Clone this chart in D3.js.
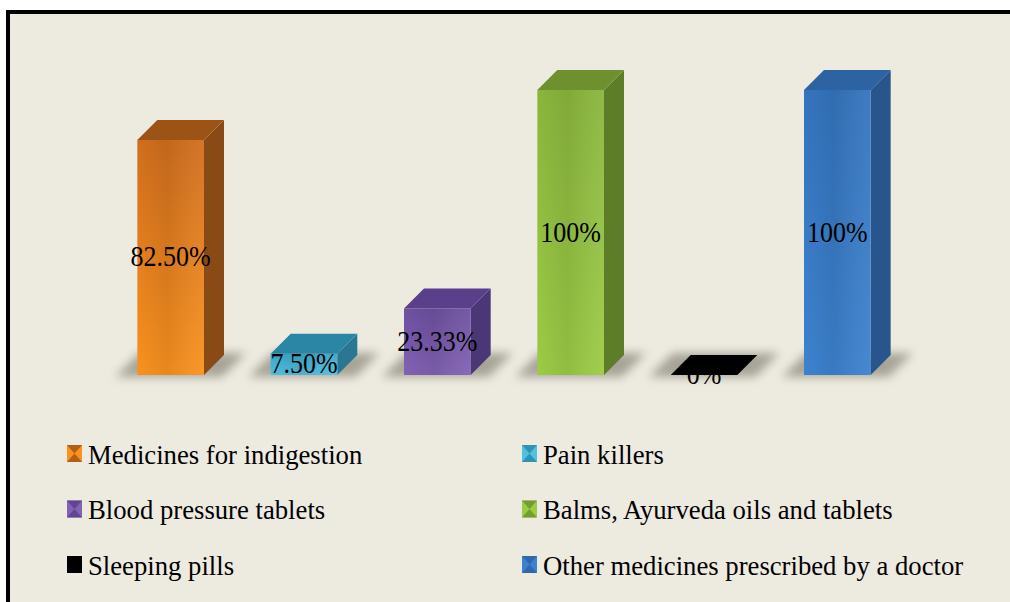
<!DOCTYPE html>
<html>
<head>
<meta charset="utf-8">
<script src="https://cdn.jsdelivr.net/npm/d3@7"></script>
<style>
  body { margin: 0; background: #fff; }
  svg { display: block; }
</style>
</head>
<body>
<div id="chart"></div>
<script>
var categories = ['Medicines for indigestion', 'Pain killers', 'Blood pressure tablets',
                  'Balms, Ayurveda oils and tablets', 'Sleeping pills', 'Other medicines prescribed by a doctor']
var values = [82.5, 7.5, 23.33, 100, 0, 100]
var valueLabels = ['82.50%', '7.50%', '23.33%', '100%', '0%', '100%']

// front / top / side colours for each bar
var frontLight = ['#f9921f', '#52c0e0', '#8262b4', '#9ccb46', '#000000', '#3d82cf']
var frontDark  = ['#d06e1e', '#3aa6c8', '#6d50a0', '#8ab63d', '#000000', '#3474bd']
var topCol     = ['#9c5416', '#2b86a6', '#5a3f8a', '#6e902e', '#000000', '#2d62a3']
var sideCol    = ['#8a4a15', '#2a7793', '#4b3676', '#5d7d28', '#000000', '#28558c']

var W = 1010, H = 602
var depth = 20

var svg = d3.select('#chart').append('svg')
    .attr('width', W)
    .attr('height', H)

// background + frame
svg.append('rect')
    .attr('x', 8).attr('y', 12)
    .attr('width', W + 20).attr('height', H + 20)
    .attr('fill', '#edeae0')
    .attr('stroke', '#000')
    .attr('stroke-width', 4)

var defs = svg.append('defs')
defs.append('filter').attr('id', 'blur')
    .attr('x', '-30%').attr('y', '-100%').attr('width', '160%').attr('height', '300%')
    .append('feGaussianBlur').attr('stdDeviation', 5)

categories.forEach(function (c, i) {
    var g = defs.append('linearGradient').attr('id', 'fv' + i)
        .attr('x1', 0).attr('y1', 0).attr('x2', 0).attr('y2', 1)
    g.append('stop').attr('offset', '0%').attr('stop-color', frontDark[i])
    g.append('stop').attr('offset', '100%').attr('stop-color', frontLight[i])
    var h = defs.append('linearGradient').attr('id', 'fh' + i)
        .attr('x1', 0).attr('y1', 0).attr('x2', 1).attr('y2', 0)
    h.append('stop').attr('offset', '0%').attr('stop-color', '#000').attr('stop-opacity', 0)
    h.append('stop').attr('offset', '45%').attr('stop-color', '#000').attr('stop-opacity', 0.07)
    h.append('stop').attr('offset', '100%').attr('stop-color', '#fff').attr('stop-opacity', 0.05)
})

var x = d3.scaleBand()
    .domain(categories)
    .range([104, 904])
    .paddingInner(0.5)
    .paddingOuter(0.25)

var y = d3.scaleLinear()
    .domain([0, 100])
    .range([375, 90])

var base = y(0)

// floor shadows
svg.append('g').selectAll('polygon')
    .data(categories)
    .enter()
    .append('polygon')
    .attr('points', function (d) {
        var x0 = x(d), x1 = x(d) + x.bandwidth()
        return [[x0 - 22, base + 2], [x1 + 18, base + 2], [x1 + depth + 22, base - depth - 2], [x0 + 2, base - depth - 2]].join(' ')
    })
    .attr('fill', '#6e6a5c')
    .attr('opacity', 0.55)
    .attr('filter', 'url(#blur)')

var bars = svg.append('g').selectAll('g')
    .data(categories)
    .enter()
    .append('g')

bars.append('polygon')
    .attr('points', function (d, i) {
        var x1 = x(d) + x.bandwidth(), t = y(values[i])
        return [[x1, t], [x1 + depth, t - depth], [x1 + depth, base - depth], [x1, base]].join(' ')
    })
    .attr('fill', function (d, i) { return sideCol[i] })

bars.append('rect')
    .attr('x', function (d) { return x(d) })
    .attr('y', function (d, i) { return y(values[i]) })
    .attr('width', x.bandwidth())
    .attr('height', function (d, i) { return base - y(values[i]) })
    .attr('fill', function (d, i) { return 'url(#fv' + i + ')' })

bars.append('rect')
    .attr('x', function (d) { return x(d) })
    .attr('y', function (d, i) { return y(values[i]) })
    .attr('width', x.bandwidth())
    .attr('height', function (d, i) { return base - y(values[i]) })
    .attr('fill', function (d, i) { return 'url(#fh' + i + ')' })

// value labels, centred on the front face
svg.append('g').selectAll('text')
    .data(categories)
    .enter()
    .append('text')
    .attr('transform', function (d, i) {
        var cy = (y(values[i]) + base) / 2
        return 'translate(' + (x(d) + x.bandwidth() / 2) + ',' + (cy + 9) + ') scale(1,1.1)'
    })
    .attr('text-anchor', 'middle')
    .attr('font-family', '"Liberation Serif", "Times New Roman", serif')
    .attr('font-size', 26)
    .attr('fill', '#000')
    .text(function (d, i) { return valueLabels[i] })

// top faces drawn last (they hide the top of the 0% label)
svg.append('g').selectAll('polygon')
    .data(categories)
    .enter()
    .append('polygon')
    .attr('points', function (d, i) {
        var x0 = x(d), x1 = x(d) + x.bandwidth(), t = y(values[i])
        return [[x0, t], [x0 + depth, t - depth], [x1 + depth, t - depth], [x1, t]].join(' ')
    })
    .attr('fill', function (d, i) { return topCol[i] })

// legend, two columns
var legend = svg.append('g').selectAll('g')
    .data(categories)
    .enter()
    .append('g')
    .attr('transform', function (d, i) {
        var col = i % 2, row = Math.floor(i / 2)
        return 'translate(' + (col === 0 ? 67 : 522) + ',' + (445 + row * 55.5) + ')'
    })

legend.append('rect')
    .attr('width', 15).attr('height', 17)
    .attr('fill', function (d, i) { return frontLight[i] })
legend.append('path')
    .attr('d', 'M0,0 L15,0 L7.5,8.5 Z M0,17 L15,17 L7.5,8.5 Z')
    .attr('fill', function (d, i) { return topCol[i] })
    .attr('opacity', 0.8)

legend.append('text')
    .attr('transform', 'translate(21,18.5) scale(1,1.06)')
    .attr('font-family', '"Liberation Serif", "Times New Roman", serif')
    .attr('font-size', 26.7)
    .attr('fill', '#000')
    .text(function (d) { return d })
</script>
</body>
</html>
